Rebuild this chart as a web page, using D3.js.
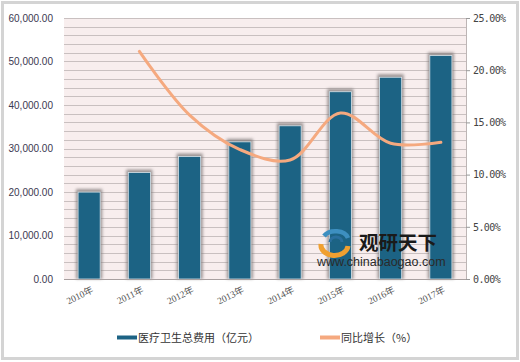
<!DOCTYPE html>
<html>
<head>
<meta charset="utf-8">
<script src="https://cdn.jsdelivr.net/npm/d3@7"></script>
<style>
  body { margin: 0; background: #fff; }
  svg { display: block; font-family: Arial, "Liberation Sans", "Noto Sans CJK SC", sans-serif; }
</style>
</head>
<body>
<svg id="chart" width="520" height="362"></svg>
<script>
// data
const years = ["2010年", "2011年", "2012年", "2013年", "2014年", "2015年", "2016年", "2017年"];
const spending = [19980, 24460, 28150, 31530, 35220, 43050, 46380, 51370];
const growth = [null, 21.8, 15.7, 12.4, 11.4, 15.9, 13.0, 13.1];
const leftTicks = [0, 10000, 20000, 30000, 40000, 50000, 60000];
const rightTicks = [0, 5, 10, 15, 20, 25];
const seriesNames = ["医疗卫生总费用（亿元）", "同比增长（%）"];

const svg = d3.select("#chart");

const margin = { top: 18, right: 54, bottom: 83, left: 64 };
const width = +svg.attr("width") - margin.left - margin.right;
const height = +svg.attr("height") - margin.top - margin.bottom;

// outer frame
svg.append("rect")
  .attr("x", 2.5).attr("y", 2.5)
  .attr("width", 515).attr("height", 356)
  .attr("fill", "#fff")
  .attr("stroke", "#d4d4d4")
  .attr("stroke-width", 3);

const defs = svg.append("defs");
defs.append("filter").attr("id", "blur")
  .attr("x", "-50%").attr("y", "-10%").attr("width", "200%").attr("height", "120%")
  .append("feGaussianBlur").attr("stdDeviation", 1.6);

const chart = svg.append("g")
  .attr("transform", `translate(${margin.left},${margin.top})`);

// scales
const x = d3.scaleBand().domain(years).range([0, width])
  .paddingInner(0.56).paddingOuter(0.28);
const yLeft = d3.scaleLinear().domain([0, 60000]).range([height, 0]);
const yRight = d3.scaleLinear().domain([0, 25]).range([height, 0]);

// plot background + gridlines every 2000
chart.append("rect")
  .attr("width", width).attr("height", height)
  .attr("fill", "#f8eeee");

chart.append("g")
  .selectAll("line")
  .data(d3.range(2000, 60001, 2000))
  .join("line")
  .attr("x1", 0).attr("x2", width)
  .attr("y1", d => Math.round(yLeft(d)) + 0.5)
  .attr("y2", d => Math.round(yLeft(d)) + 0.5)
  .attr("stroke", "#c9c0c0")
  .attr("stroke-width", 1);

// right border of plot
chart.append("line")
  .attr("x1", width + 0.5).attr("x2", width + 0.5)
  .attr("y1", 0).attr("y2", height)
  .attr("stroke", "#bdb5b5");

// bar shadows
chart.append("g")
  .selectAll("rect")
  .data(spending)
  .join("rect")
  .attr("x", (d, i) => x(years[i]) - 2)
  .attr("y", d => yLeft(d) - 3)
  .attr("width", x.bandwidth() + 4)
  .attr("height", d => height - yLeft(d) + 3)
  .attr("fill", "#7a7474")
  .attr("opacity", 0.75)
  .attr("filter", "url(#blur)");

// bars
chart.append("g")
  .selectAll("rect")
  .data(spending)
  .join("rect")
  .attr("x", (d, i) => x(years[i]))
  .attr("y", d => yLeft(d))
  .attr("width", x.bandwidth())
  .attr("height", d => height - yLeft(d))
  .attr("fill", "#1c6384")
  .attr("stroke", "#d8e4ea")
  .attr("stroke-width", 0.8);

// bottom axis line
chart.append("line")
  .attr("x1", 0).attr("x2", width)
  .attr("y1", height + 0.5).attr("y2", height + 0.5)
  .attr("stroke", "#a8a0a0");

// growth line
const linePts = growth
  .map((g, i) => ({ year: years[i], g }))
  .filter(d => d.g !== null);

const line = d3.line()
  .x(d => x(d.year) + x.bandwidth() / 2)
  .y(d => yRight(d.g))
  .curve(d3.curveCatmullRom.alpha(0.5));

chart.append("path")
  .datum(linePts)
  .attr("fill", "none")
  .attr("stroke", "#f5a97f")
  .attr("stroke-width", 3)
  .attr("stroke-linecap", "round")
  .attr("d", line);

// watermark (absolute page position)
const wm = svg.append("g").attr("transform", "translate(318,230)");
wm.append("path")
  .attr("d", "M3,14 A13,10 0 0,0 30,16")
  .attr("fill", "none").attr("stroke", "#f0a030").attr("stroke-width", 5);
wm.append("path")
  .attr("d", "M30,8 A13,9 0 0,0 6,6")
  .attr("fill", "none").attr("stroke", "#3d8fc0").attr("stroke-width", 4.5);
wm.append("path")
  .attr("d", "M24,12 A6,5 0 1,0 12,12")
  .attr("fill", "none").attr("stroke", "#2a6f9e").attr("stroke-width", 3);
wm.append("text")
  .attr("x", 41).attr("y", 20)
  .attr("font-family", "Noto Sans CJK SC")
  .attr("font-weight", "bold")
  .attr("font-size", 19.5)
  .attr("fill", "#1a1a1a")
  .text("观研天下");
wm.append("text")
  .attr("x", -1).attr("y", 36)
  .attr("font-size", 12.5)
  .attr("fill", "#2a2a2a")
  .text("www.chinabaogao.com");

// left axis
const leftAxis = chart.append("g")
  .call(d3.axisLeft(yLeft).tickValues(leftTicks).tickSize(0).tickPadding(11)
    .tickFormat(d3.format(",.2f")));
leftAxis.select(".domain").remove();
leftAxis.selectAll("text")
  .attr("font-size", 10)
  .attr("font-family", "Arial, 'Liberation Sans', sans-serif")
  .attr("fill", "#3a3850");

// right axis
const rightAxis = chart.append("g")
  .attr("transform", `translate(${width},0)`)
  .call(d3.axisRight(yRight).tickValues(rightTicks).tickSize(4).tickPadding(3)
    .tickFormat(d => d3.format(".2f")(d) + "%"));
rightAxis.select(".domain").remove();
rightAxis.selectAll("line").attr("stroke", "#999");
rightAxis.selectAll("text")
  .attr("font-size", 10)
  .attr("font-family", "'DejaVu Sans Mono', 'Liberation Mono', monospace")
  .attr("letter-spacing", -0.6)
  .attr("fill", "#444");

// x labels
chart.append("g")
  .selectAll("text")
  .data(years)
  .join("text")
  .attr("transform", d => `translate(${x(d) + x.bandwidth() / 2 + 5},${height + 13}) rotate(-26)`)
  .attr("text-anchor", "end")
  .attr("font-size", 9.5)
  .attr("font-family", "'Liberation Serif', 'Noto Sans CJK SC', serif")
  .attr("fill", "#555")
  .text(d => d);

// legend
const legend = svg.append("g").attr("font-family", "'Noto Sans CJK SC', sans-serif").attr("font-size", 11);
const legendItems = [
  { name: seriesNames[0], color: "#1c6384", x: 117 },
  { name: seriesNames[1], color: "#f5a97f", x: 320 }
];
legendItems.forEach(item => {
  legend.append("line")
    .attr("x1", item.x).attr("x2", item.x + 20)
    .attr("y1", 337.5).attr("y2", 337.5)
    .attr("stroke", item.color)
    .attr("stroke-width", 4);
  legend.append("text")
    .attr("x", item.x + 21).attr("y", 341.5)
    .attr("fill", "#333")
    .text(item.name);
});
</script>
</body>
</html>
